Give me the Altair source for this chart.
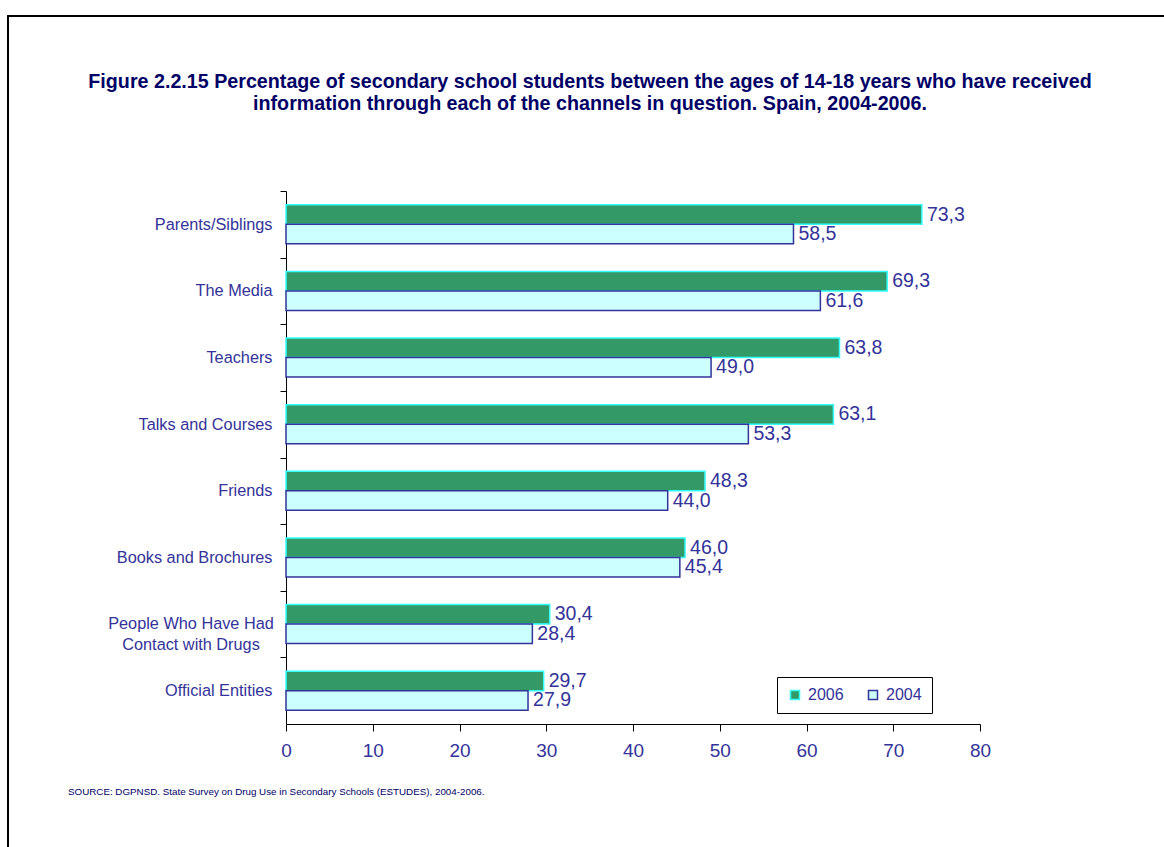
import altair as alt
import pandas as pd

categories = [
    "Parents/Siblings",
    "The Media",
    "Teachers",
    "Talks and Courses",
    "Friends",
    "Books and Brochures",
    "People Who Have Had Contact with Drugs",
    "Official Entities",
]
values_2006 = [73.3, 69.3, 63.8, 63.1, 48.3, 46.0, 30.4, 29.7]
values_2004 = [58.5, 61.6, 49.0, 53.3, 44.0, 45.4, 28.4, 27.9]
years = ["2006", "2004"]
x_ticks = [0, 10, 20, 30, 40, 50, 60, 70, 80]
title_lines = [
    "Figure 2.2.15 Percentage of secondary school students between the ages of 14-18 years who have received",
    "information through each of the channels in question. Spain, 2004-2006.",
]
source_text = "SOURCE: DGPNSD. State Survey on Drug Use in Secondary Schools (ESTUDES), 2004-2006."
long_label = "People Who Have Had Contact with Drugs"
long_label_text = "People Who Have Had\nContact with Drugs"

FONT = "Liberation Sans"
LABEL_COLOR = "#333399"
TITLE_COLOR = "#000066"

PLOT_H = 533
STEP = PLOT_H / len(categories)

rows = []
for c, a, b in zip(categories, values_2006, values_2004):
    rows.append({"category": c, "year": "2006", "value": a})
    rows.append({"category": c, "year": "2004", "value": b})
df = pd.DataFrame(rows)

y_enc = alt.Y(
    "category:N",
    sort=categories,
    scale=alt.Scale(paddingInner=0.414, paddingOuter=0.207),
    axis=alt.Axis(
        title=None,
        labelExpr=f"datum.label == '{long_label}' ? '' : datum.label",
        tickOffset=-STEP / 2,
        labelOffset=STEP / 2,
        tickSize=6,
        labelPadding=8,
        labelFontSize=16.3,
        labelFont=FONT,
        labelColor=LABEL_COLOR,
        domainColor="#000000",
        tickColor="#000000",
        domainWidth=1,
        grid=False,
    ),
)
x_enc = alt.X(
    "value:Q",
    scale=alt.Scale(domain=[0, 80], nice=False),
    axis=alt.Axis(
        title=None,
        values=x_ticks,
        tickSize=7,
        labelPadding=10,
        labelFontSize=19,
        labelFont=FONT,
        labelColor=LABEL_COLOR,
        labelFlush=False,
        domainColor="#000000",
        tickColor="#000000",
        grid=False,
    ),
)
yoff_enc = alt.YOffset("year:N", sort=years, scale=alt.Scale(domain=years, paddingInner=0, paddingOuter=0))

legend_def = alt.Legend(
    title=None,
    orient="none",
    legendX=491,
    legendY=486,
    direction="horizontal",
)

bars = alt.Chart(df).mark_bar(strokeWidth=1.5).encode(
    x=x_enc,
    y=y_enc,
    yOffset=yoff_enc,
    fill=alt.Fill("year:N", sort=years, scale=alt.Scale(domain=years, range=["#339966", "#CCFFFF"]), legend=legend_def),
    stroke=alt.Stroke("year:N", sort=years, scale=alt.Scale(domain=years, range=["#33FFFF", "#333399"]), legend=legend_def),
)

value_labels = alt.Chart(df).transform_calculate(
    label="replace(format(datum.value, '.1f'), '.', ',')"
).mark_text(
    align="left", baseline="middle", dx=5, fontSize=19.5, font=FONT, color=LABEL_COLOR
).encode(
    x=x_enc,
    y=y_enc,
    yOffset=yoff_enc,
    text="label:N",
)

long_df = pd.DataFrame({"category": [long_label], "text": [long_label_text]})
long_lbl = alt.Chart(long_df).mark_text(
    align="center", baseline="middle", lineBreak="\n", lineHeight=21,
    fontSize=16.3, font=FONT, color=LABEL_COLOR
).encode(
    y=y_enc,
    x=alt.value(-95),
    text="text:N",
)

one = alt.Data(values=[{}])
title1 = alt.Chart(one).mark_text(
    align="center", baseline="alphabetic", fontSize=19.7, fontWeight="bold", font=FONT, color=TITLE_COLOR
).encode(x=alt.value(304), y=alt.value(-103), text=alt.value(title_lines[0]))
title2 = alt.Chart(one).mark_text(
    align="center", baseline="alphabetic", fontSize=19.7, fontWeight="bold", font=FONT, color=TITLE_COLOR
).encode(x=alt.value(304), y=alt.value(-81), text=alt.value(title_lines[1]))
source = alt.Chart(one).mark_text(
    align="left", baseline="middle", fontSize=9.8, font=FONT, color=TITLE_COLOR
).encode(x=alt.value(-218), y=alt.value(601), text=alt.value(source_text))
frame = alt.Chart(one).mark_rect(
    fillOpacity=0, stroke="#000000", strokeWidth=2
).encode(x=alt.value(-278), x2=alt.value(1000), y=alt.value(-175), y2=alt.value(800))

chart = alt.layer(frame, bars, value_labels, long_lbl, title1, title2, source).properties(
    width=694,
    height=PLOT_H,
    padding={"left": 286, "top": 191, "right": 184, "bottom": 123},
    autosize=alt.AutoSizeParams(type="none"),
    background="white",
).configure_view(
    strokeWidth=0
).configure_legend(
    padding=10,
    columnPadding=21,
    strokeColor="#000000",
    fillColor="#ffffff",
    labelFontSize=16,
    labelFont=FONT,
    labelColor=LABEL_COLOR,
    symbolSize=81,
    symbolStrokeWidth=1.5,
    symbolType="square",
    labelOffset=5,
)

chart.save("out.html", embed_options={"renderer": "svg", "actions": False})
